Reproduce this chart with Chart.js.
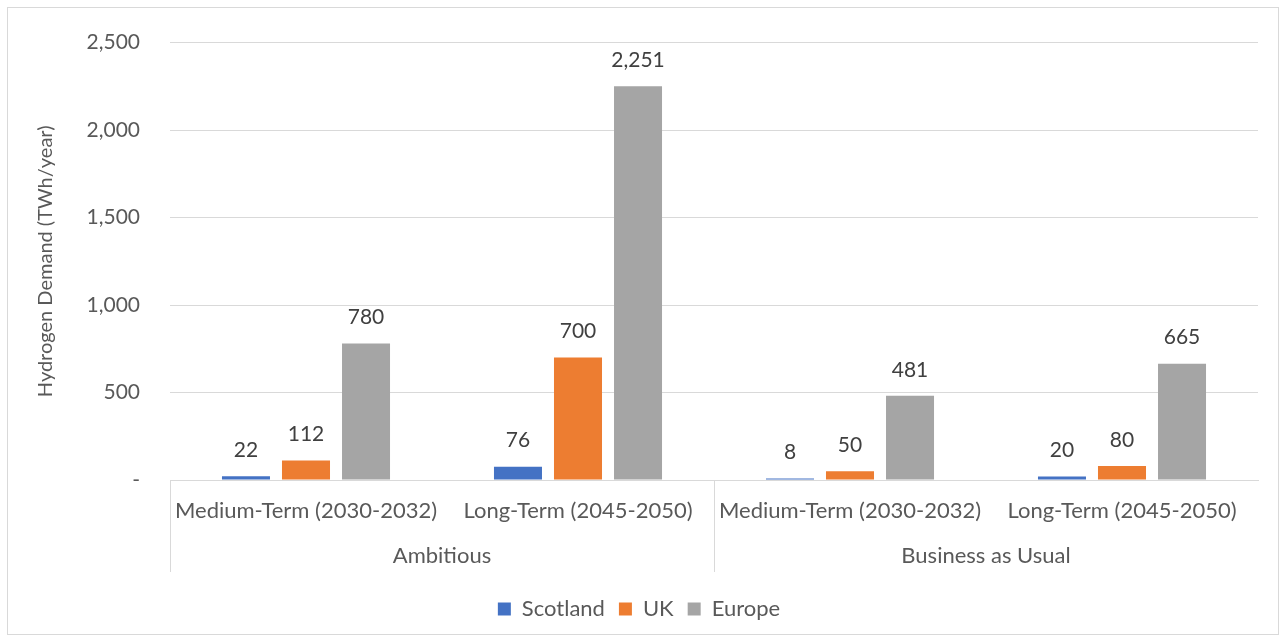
<!DOCTYPE html>
<html>
<head>
<meta charset="utf-8">
<script src="https://cdn.jsdelivr.net/npm/chart.js@4"></script>
<style>
  html, body { margin: 0; padding: 0; background: #fff; }
  #wrap { width: 1286px; height: 642px; }
</style>
</head>
<body>
<div id="wrap"><canvas id="myChart"></canvas></div>
<script>
const periods = ['Medium-Term (2030-2032)', 'Long-Term (2045-2050)', 'Medium-Term (2030-2032)', 'Long-Term (2045-2050)'];
const scenarios = ['Ambitious', 'Business as Usual'];
const scotland = [22, 76, 8, 20];
const uk = [112, 700, 50, 80];
const europe = [780, 2251, 481, 665];

const FONT = 'Lato, "Open Sans", sans-serif';
const SIZE = 22;
const NUM = 21;
const TEXT = '#595959';
const LINE = '#d9d9d9';

const fmt = v => v === 0 ? '-' : v.toLocaleString('en-US');

// outer frame and white background
const framePlugin = {
    id: 'frame',
    beforeDraw(chart) {
        const c = chart.ctx;
        c.save();
        c.fillStyle = '#fff';
        c.fillRect(0, 0, chart.width, chart.height);
        c.strokeStyle = LINE;
        c.lineWidth = 1;
        c.strokeRect(7.5, 7.5, chart.width - 15, chart.height - 15);
        c.restore();
    }
};

// value labels above each bar
const valueLabels = {
    id: 'valueLabels',
    afterDatasetsDraw(chart) {
        const c = chart.ctx;
        c.save();
        c.font = NUM + 'px ' + FONT;
        c.fillStyle = '#404040';
        c.textAlign = 'center';
        c.textBaseline = 'middle';
        chart.data.datasets.forEach((ds, i) => {
            chart.getDatasetMeta(i).data.forEach((bar, j) => {
                c.fillText(fmt(ds.data[j]), bar.x, bar.y - 26);
            });
        });
        c.restore();
    }
};

// second row of the category axis: scenario names
const groupLabels = {
    id: 'groupLabels',
    afterDraw(chart) {
        const x = chart.scales.x;
        const c = chart.ctx;
        c.save();
        c.font = SIZE + 'px ' + FONT;
        c.fillStyle = TEXT;
        c.textAlign = 'center';
        c.textBaseline = 'middle';
        scenarios.forEach((name, g) => {
            const mid = (x.getPixelForValue(g * 2) + x.getPixelForValue(g * 2 + 1)) / 2;
            c.fillText(name, mid, x.top + 76);
        });
        c.restore();
    }
};

new Chart(document.getElementById('myChart').getContext('2d'), {
    type: 'bar',
    data: {
        labels: periods,
        datasets: [
            { label: 'Scotland', data: scotland, backgroundColor: '#4472C4' },
            { label: 'UK', data: uk, backgroundColor: '#ED7D31' },
            { label: 'Europe', data: europe, backgroundColor: '#A5A5A5' }
        ]
    },
    options: {
        responsive: true,
        maintainAspectRatio: false,
        animation: false,
        categoryPercentage: 0.662,
        barPercentage: 0.8,
        layout: { padding: { left: 20, right: 28, top: 28, bottom: 12 } },
        plugins: {
            legend: {
                position: 'bottom',
                labels: {
                    font: { family: FONT, size: SIZE },
                    color: TEXT,
                    boxWidth: 13,
                    boxHeight: 13,
                    padding: 14
                }
            },
            tooltip: { enabled: false }
        },
        scales: {
            x: {
                grid: {
                    offset: true,
                    drawOnChartArea: false,
                    tickLength: 92,
                    color: ctx => ctx.index % 2 === 0 ? LINE : 'rgba(0,0,0,0)'
                },
                border: { color: LINE },
                ticks: {
                    font: { family: FONT, size: SIZE },
                    color: TEXT,
                    padding: -74,
                    maxRotation: 0,
                    autoSkip: false
                },
                afterFit: s => { s.height = 104; }
            },
            y: {
                min: 0,
                max: 2500,
                ticks: {
                    stepSize: 500,
                    font: { family: FONT, size: NUM },
                    color: TEXT,
                    padding: 30,
                    callback: v => fmt(v)
                },
                grid: { color: LINE, drawTicks: false },
                border: { display: false },
                title: {
                    display: true,
                    text: 'Hydrogen Demand (TWh/year)',
                    font: { family: FONT, size: 20 },
                    color: TEXT,
                    padding: { top: 14, bottom: 0 }
                },
                afterFit: s => { s.width = 150; }
            }
        }
    },
    plugins: [framePlugin, valueLabels, groupLabels]
});
</script>
</body>
</html>
